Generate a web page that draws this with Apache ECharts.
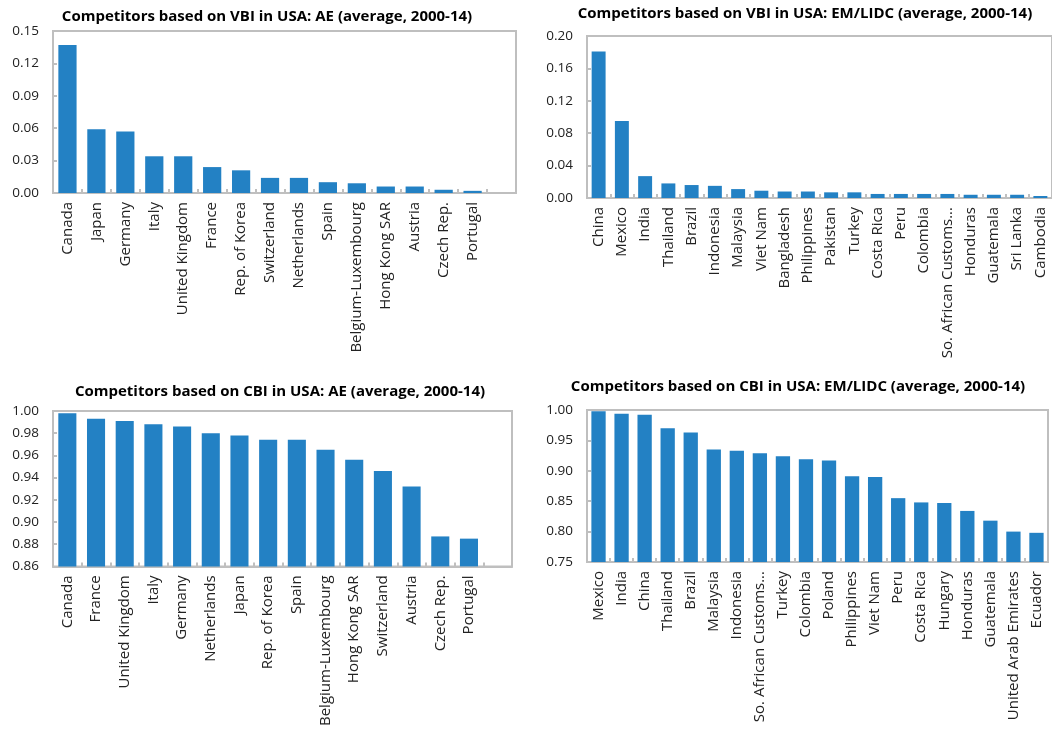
<!DOCTYPE html>
<html>
<head>
<meta charset="utf-8">
<script src="https://cdn.jsdelivr.net/npm/echarts@6/dist/echarts.min.js"></script>
<style>
  html, body { margin: 0; padding: 0; background: #fff; }
  #chart { width: 1052px; height: 729px; }
</style>
</head>
<body>
<div id="chart"></div>
<script>
var aeVbiCountries = ['Canada', 'Japan', 'Germany', 'Italy', 'United Kingdom', 'France', 'Rep. of Korea', 'Switzerland', 'Netherlands', 'Spain', 'Belgium-Luxembourg', 'Hong Kong SAR', 'Austria', 'Czech Rep.', 'Portugal'];
var aeVbiValues = [0.137, 0.059, 0.057, 0.034, 0.034, 0.024, 0.021, 0.014, 0.014, 0.010, 0.009, 0.006, 0.006, 0.003, 0.002];

var emVbiCountries = ['China', 'Mexico', 'India', 'Thailand', 'Brazil', 'Indonesia', 'Malaysia', 'Viet Nam', 'Bangladesh', 'Philippines', 'Pakistan', 'Turkey', 'Costa Rica', 'Peru', 'Colombia', 'So. African Customs...', 'Honduras', 'Guatemala', 'Sri Lanka', 'Cambodia'];
var emVbiValues = [0.181, 0.095, 0.027, 0.018, 0.016, 0.015, 0.011, 0.009, 0.008, 0.008, 0.007, 0.007, 0.005, 0.005, 0.005, 0.005, 0.004, 0.004, 0.004, 0.0025];

var aeCbiCountries = ['Canada', 'France', 'United Kingdom', 'Italy', 'Germany', 'Netherlands', 'Japan', 'Rep. of Korea', 'Spain', 'Belgium-Luxembourg', 'Hong Kong SAR', 'Switzerland', 'Austria', 'Czech Rep.', 'Portugal'];
var aeCbiValues = [0.998, 0.993, 0.991, 0.988, 0.986, 0.980, 0.978, 0.974, 0.974, 0.965, 0.956, 0.946, 0.932, 0.887, 0.885];

var emCbiCountries = ['Mexico', 'India', 'China', 'Thailand', 'Brazil', 'Malaysia', 'Indonesia', 'So. African Customs...', 'Turkey', 'Colombia', 'Poland', 'Philippines', 'Viet Nam', 'Peru', 'Costa Rica', 'Hungary', 'Honduras', 'Guatemala', 'United Arab Emirates', 'Ecuador'];
var emCbiValues = [0.998, 0.994, 0.992, 0.970, 0.963, 0.935, 0.933, 0.929, 0.924, 0.919, 0.917, 0.891, 0.890, 0.855, 0.848, 0.847, 0.834, 0.818, 0.800, 0.798];

var titles = [
    'Competitors based on VBI in USA: AE (average, 2000-14)',
    'Competitors based on VBI in USA: EM/LIDC (average, 2000-14)',
    'Competitors based on CBI in USA: AE (average, 2000-14)',
    'Competitors based on CBI in USA: EM/LIDC (average, 2000-14)'
];

var chartDom = document.getElementById('chart');
var myChart = echarts.init(chartDom);

var fontName = 'Open Sans';
var gray = '#bfbfbf';
var barColor = '#2381c4';

function makeX(idx, cats) {
    return {
        type: 'category',
        gridIndex: idx,
        data: cats,
        axisLine: { show: true, lineStyle: { color: gray, width: 2 } },
        axisTick: { show: true, inside: true, length: 4, lineStyle: { color: gray, width: 2 } },
        axisLabel: {
            interval: 0,
            rotate: 90,
            margin: 9,
            fontSize: 15,
            fontFamily: fontName,
            color: '#222'
        },
        splitLine: { show: false }
    };
}

function makeY(idx, min, max, step) {
    return {
        type: 'value',
        gridIndex: idx,
        min: min,
        max: max,
        interval: step,
        axisLine: { show: true, lineStyle: { color: gray, width: 2 } },
        axisTick: { show: true, inside: true, length: 4, lineStyle: { color: gray, width: 2 } },
        axisLabel: {
            margin: 14,
            fontSize: 13.5,
            fontFamily: fontName,
            color: '#222',
            formatter: function (v) { return v.toFixed(2); }
        },
        splitLine: { show: false }
    };
}

function makeBar(idx, values, gap) {
    return {
        type: 'bar',
        xAxisIndex: idx,
        yAxisIndex: idx,
        data: values,
        barCategoryGap: gap,
        itemStyle: {
            color: barColor
        },
        silent: true
    };
}

var titleStyle = { fontSize: 15, fontWeight: 'bold', fontFamily: fontName, color: '#000' };

option = {
    animation: false,
    backgroundColor: '#fff',
    title: [
        { text: titles[0], left: 262, top: 4, textAlign: 'center', textStyle: titleStyle },
        { text: titles[1], left: 800, top: 1, textAlign: 'center', textStyle: titleStyle },
        { text: titles[2], left: 275, top: 379, textAlign: 'center', textStyle: titleStyle },
        { text: titles[3], left: 793, top: 374, textAlign: 'center', textStyle: titleStyle }
    ],
    grid: [
        { left: 53, top: 31, width: 463, height: 162, show: true, borderColor: gray, borderWidth: 2 },
        { left: 587, top: 36, width: 468, height: 162, show: true, borderColor: gray, borderWidth: 2 },
        { left: 53, top: 411, width: 459, height: 159, show: true, borderColor: gray, borderWidth: 2 },
        { left: 587, top: 410, width: 461, height: 152, show: true, borderColor: gray, borderWidth: 2 }
    ],
    xAxis: [
        makeX(0, aeVbiCountries.concat([''])),
        makeX(1, emVbiCountries),
        makeX(2, aeCbiCountries.concat([''])),
        makeX(3, emCbiCountries)
    ],
    yAxis: [
        makeY(0, 0, 0.15, 0.03),
        makeY(1, 0, 0.20, 0.04),
        makeY(2, 0.86, 1.00, 0.02),
        makeY(3, 0.75, 1.00, 0.05)
    ],
    series: [
        makeBar(0, aeVbiValues, '37%'),
        makeBar(1, emVbiValues, '40%'),
        makeBar(2, aeCbiValues, '37%'),
        makeBar(3, emCbiValues, '38%')
    ]
};

option && myChart.setOption(option);
</script>
</body>
</html>
